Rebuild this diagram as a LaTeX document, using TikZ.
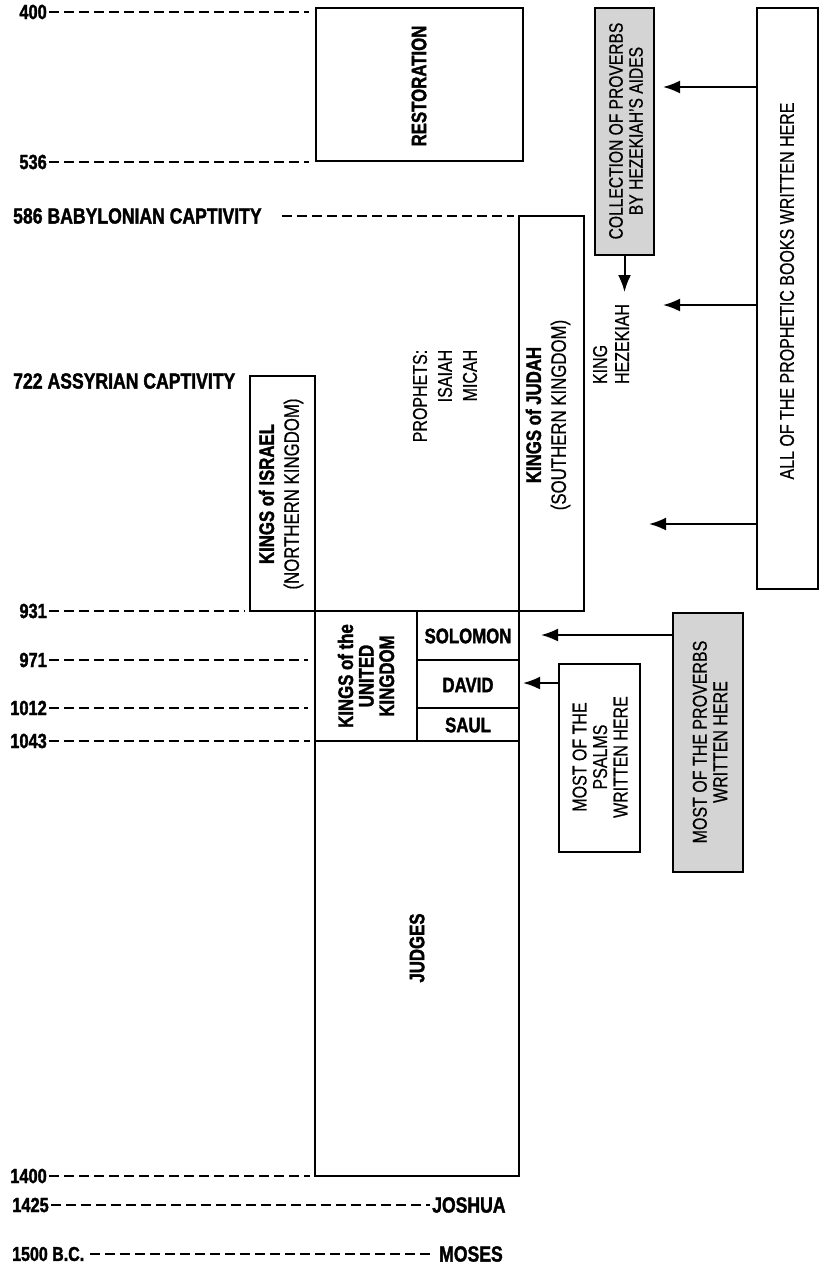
\documentclass[tikz,border=0pt]{standalone}
\usepackage{fontspec}
\setmainfont[FakeStretch=0.8, UprightFeatures={FakeBold=0.5}, BoldFeatures={FakeBold=1.6}]{Liberation Sans}
\usetikzlibrary{arrows.meta}
\begin{document}
\begin{tikzpicture}[x=1pt,y=-1pt,
  frame/.style={draw, line width=2pt, inner sep=0pt, outer sep=0pt},
  graybox/.style={frame, fill=black!17},
  dashline/.style={line width=1.8pt, dash pattern=on 10pt off 5pt},
  arr/.style={line width=2pt, -{Latex[length=17pt,width=13pt]}},
  bl/.style={font=\fontsize{21}{25}\selectfont\bfseries, inner sep=0pt},
  rg/.style={font=\fontsize{20}{20.5}\selectfont, inner sep=0pt},
  datel/.style={font=\fontsize{20.5}{24}\selectfont\bfseries, inner xsep=2pt, inner ysep=0pt, anchor=east},
  biglbl/.style={font=\fontsize{22}{26}\selectfont\bfseries, inner xsep=2pt, inner ysep=0pt},
  vert/.style={rotate=90, align=center}]
\useasboundingbox (0,0) rectangle (825,1274);

% ---- boxes ----
\node[frame, minimum width=207pt, minimum height=153pt] (restoration) at (419.5,84.5) {};
\node[graybox, minimum width=59pt, minimum height=247pt] (collection) at (624.5,131.5) {};
\node[frame, minimum width=61pt, minimum height=581pt] (allbooks) at (787.5,298.5) {};
\node[frame, minimum width=65pt, minimum height=235pt] (israel) at (282.5,493.5) {};
\node[frame, minimum width=65pt, minimum height=395pt] (judah) at (551.5,413.5) {};
\node[frame, minimum width=102pt, minimum height=130pt] (uk) at (366,676) {};
\node[frame, minimum width=102pt, minimum height=49pt] (solomon) at (468,635.5) {};
\node[frame, minimum width=102pt, minimum height=48pt] (david) at (468,684) {};
\node[frame, minimum width=102pt, minimum height=33pt] (saul) at (468,724.5) {};
\node[frame, minimum width=204pt, minimum height=435pt] (judges) at (417,958.5) {};
\node[graybox, minimum width=70pt, minimum height=259pt] (proverbs) at (708,742.5) {};
\node[frame, minimum width=81pt, minimum height=188pt] (psalms) at (599.5,758) {};

% ---- texts in boxes ----
\node[bl, vert] (trest) at (419,86) {RESTORATION};
\node[rg, vert, font=\fontsize{19.5}{20}\selectfont] (tcoll) at (626,131) {COLLECTION OF PROVERBS\\BY HEZEKIAH'S AIDES};
\node[rg, vert] (tall) at (787,291) {ALL OF THE PROPHETIC BOOKS WRITTEN HERE};
\node[bl, vert] (tisr) at (281,494) {KINGS of ISRAEL\\\mdseries(NORTHERN KINGDOM)};
\node[bl, vert] (tjud) at (548,415) {KINGS of JUDAH\\\mdseries(SOUTHERN KINGDOM)};
\node[bl, vert, font=\fontsize{21}{20.5}\selectfont\bfseries] (tuk) at (366,676) {KINGS of the\\UNITED\\KINGDOM};
\node[bl] (tsol) at (468,636) {SOLOMON};
\node[bl] (tdav) at (468,685) {DAVID};
\node[bl] (tsau) at (468,725) {SAUL};
\node[bl, vert] (tjudg) at (417,948) {JUDGES};
\node[rg, vert] (tprov) at (710,742) {MOST OF THE PROVERBS\\WRITTEN HERE};
\node[rg, vert] (tps) at (600,757) {MOST OF THE\\PSALMS\\WRITTEN HERE};
\node[rg, rotate=90, align=right, font=\fontsize{20}{25}\selectfont] (tproph) at (445,396) {PROPHETS:\\ISAIAH\\MICAH};
\node[rg, rotate=90, align=left, font=\fontsize{20}{22}\selectfont] (thez) at (611,344) {KING\\HEZEKIAH};

% ---- arrows ----
\coordinate (hz) at (624.5,292);
\draw[arr] (collection) -- (hz);
\coordinate (t1) at (663,87);
\coordinate (t2) at (663,305);
\coordinate (t3) at (649,524);
\draw[arr] (allbooks.west |- t1) -- (t1);
\draw[arr] (allbooks.west |- t2) -- (t2);
\draw[arr] (allbooks.west |- t3) -- (t3);
\coordinate (t4) at (541,635);
\draw[arr] (proverbs.west |- t4) -- (t4);
\coordinate (t5) at (523,683);
\draw[arr] (psalms.west |- t5) -- (t5);

% ---- date labels and dashed lines ----
\node[datel] (d400) at (49,12) {400};
\draw[dashline, shorten >=7pt] (d400.east) -- (d400.east -| restoration.west);
\node[datel] (d536) at (49,162) {536};
\draw[dashline, shorten >=7pt] (d536.east) -- (d536.east -| restoration.west);
\node[biglbl, anchor=west] (c586) at (11,216) {586\hspace{5pt}BABYLONIAN CAPTIVITY};
\draw[dashline, shorten <=18pt, shorten >=5pt] (c586.east) -- (c586.east -| judah.west);
\node[biglbl, anchor=west] (c722) at (11,381) {722\hspace{5pt}ASSYRIAN CAPTIVITY};
\node[datel] (d931) at (49,611) {931};
\draw[dashline, shorten >=5pt] (d931.east) -- (israel.south west);
\node[datel] (d971) at (49,660) {971};
\draw[dashline, shorten >=7pt] (d971.east) -- (d971.east -| uk.west);
\node[datel] (d1012) at (49,708) {1012};
\draw[dashline, shorten >=7pt] (d1012.east) -- (d1012.east -| uk.west);
\node[datel] (d1043) at (49,741) {1043};
\draw[dashline, shorten >=5pt] (d1043.east) -- (judges.north west);
\node[datel] (d1400) at (49,1176) {1400};
\draw[dashline, shorten >=5pt] (d1400.east) -- (judges.south west);
\node[datel] (d1425) at (51,1205) {1425};
\node[biglbl, anchor=west] (joshua) at (430,1205) {JOSHUA};
\draw[dashline] (d1425.east) -- (joshua.west);
\node[biglbl, anchor=west, font=\fontsize{20}{24}\selectfont\bfseries] (d1500) at (10,1254) {1500 B.C.};
\node[biglbl, anchor=west] (moses) at (437,1254) {MOSES};
\draw[dashline, shorten <=4pt, shorten >=6pt] (d1500.east) -- (moses.west);
\end{tikzpicture}
\end{document}
